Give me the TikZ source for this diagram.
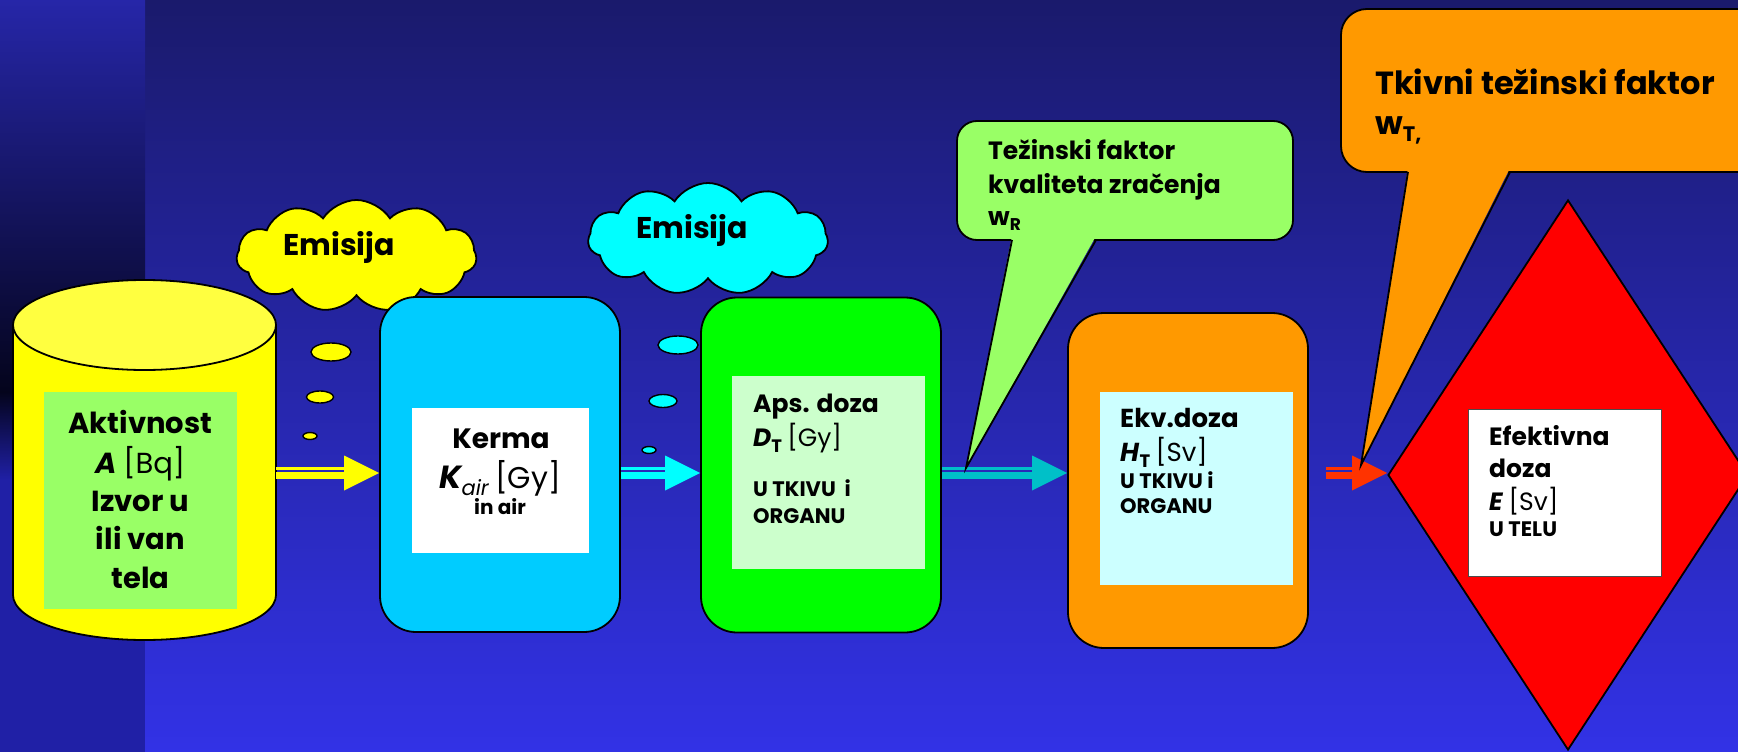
\documentclass[tikz,border=0pt]{standalone}
\usepackage{fontspec}
\setmainfont{Poppins}
\usetikzlibrary{shapes.geometric,shapes.symbols,calc}

\definecolor{bgtop}{HTML}{1A1A6C}
\definecolor{bgbot}{HTML}{3232E6}
\definecolor{striptop}{HTML}{2626A8}
\definecolor{stripdark}{HTML}{04041C}
\definecolor{stripbot}{HTML}{2020A6}
\definecolor{srcyellow}{HTML}{FFFF00}
\definecolor{srctop}{HTML}{FFFF40}
\definecolor{lightgreen}{HTML}{99FF66}
\definecolor{kermablue}{HTML}{00CCFF}
\definecolor{cloudcyan}{HTML}{00FFFF}
\definecolor{absgreen}{HTML}{00FF00}
\definecolor{palegreen}{HTML}{CCFFCC}
\definecolor{paleblue}{HTML}{CCFFFF}
\definecolor{eqorange}{HTML}{FF9900}
\definecolor{tealarrow}{HTML}{00C0C8}
\definecolor{redarrow}{HTML}{FF3300}
\definecolor{effred}{HTML}{FF0000}

\newcommand{\fsz}[1]{\fontsize{#1pt}{#1pt}\selectfont}

% striped block arrow: colour, start, end (same height), head length
\newcommand{\stripedarrow}[4]{%
  \fill[#1] ($(#2)+(0,-6)$) rectangle ($(#3)+(-#4,-3.5)$);
  \fill[#1] ($(#2)+(0,-1)$) rectangle ($(#3)+(-#4,6)$);
  \fill[#1] ($(#3)+(-#4,-17.5)$) -- (#3) -- ($(#3)+(-#4,17.5)$) -- cycle;
}

\tikzset{
  outline/.style={draw=black, line width=1.8pt},
  stage/.style={outline, rounded corners=36pt, minimum width=240pt,
    minimum height=335pt, inner sep=0pt},
  panel/.style={inner sep=0pt, outer sep=0pt},
  puff/.style={outline, cloud, cloud puffs=11, cloud puff arc=115,
    cloud ignores aspect, minimum width=240pt, minimum height=112pt, inner sep=0pt},
  bubble/.style={draw=black, line width=1.4pt},
  bigtxt/.style={font=\fsz{29}\bfseries, inner sep=0pt},
  midtxt/.style={font=\fsz{25}\bfseries, inner sep=0pt},
  smalltxt/.style={font=\fsz{21}\bfseries, inner sep=0pt},
}

\begin{document}
\begin{tikzpicture}[x=1pt,y=-1pt]
\useasboundingbox (0,0) rectangle (1738,752);
\clip (0,0) rectangle (1738,752);

% background
\fill[top color=bgtop, bottom color=bgbot] (145,0) rectangle (1738,752);
\fill[top color=striptop, bottom color=stripdark] (0,0) rectangle (145,392);
\fill[top color=stripdark, bottom color=stripbot] (0,392) rectangle (145,480);
\fill[stripbot] (0,480) rectangle (145,752);

% source cylinder
\fill[srcyellow] (13,325) -- (13,595)
  arc[start angle=180, end angle=360, x radius=131.5pt, y radius=45pt] -- (276,325) -- cycle;
\draw[outline] (13,325) -- (13,595)
  arc[start angle=180, end angle=360, x radius=131.5pt, y radius=45pt] -- (276,325);
\draw[outline, fill=srctop] (144.5,325) ellipse [x radius=131.5pt, y radius=45pt];
\coordinate (cylE) at (276,473);
\node[panel, fill=lightgreen, minimum width=193pt, minimum height=217pt] (srcpanel) at (140.5,500.5) {};
\node[bigtxt, anchor=base] (s1) at (140.5,433.5) {Aktivnost};
\node[bigtxt, anchor=base] (s2) at (140.5,473.5) {\textit{A} {\mdseries [Bq]}};
\node[bigtxt, anchor=base] (s3) at (140.5,511.5) {Izvor u};
\node[bigtxt, anchor=base] (s4) at (140.5,549.5) {ili van};
\node[bigtxt, anchor=base] (s5) at (140.5,588.5) {tela};

% emission clouds
\node[puff, fill=srcyellow] (cloudA) at (356.5,256) {};
\node[font=\fsz{30}\bfseries, inner sep=0pt, anchor=base] (emA) at (339,255) {Emisija};
\draw[bubble, fill=srcyellow] (331,352) ellipse [x radius=20pt, y radius=9pt];
\draw[bubble, fill=srcyellow] (320,397) ellipse [x radius=13.5pt, y radius=6pt];
\draw[bubble, fill=srcyellow] (310,436) ellipse [x radius=7pt, y radius=3.5pt];

\node[puff, fill=cloudcyan] (cloudB) at (708,239) {};
\node[font=\fsz{30}\bfseries, inner sep=0pt, anchor=base] (emB) at (692,238) {Emisija};
\draw[bubble, fill=cloudcyan] (678,345) ellipse [x radius=20pt, y radius=9pt];
\draw[bubble, fill=cloudcyan] (663,401) ellipse [x radius=14pt, y radius=6.5pt];
\draw[bubble, fill=cloudcyan] (649,450) ellipse [x radius=7pt, y radius=3.5pt];

% kerma
\node[stage, fill=kermablue] (kerma) at (500,464.5) {};
\node[panel, fill=white, minimum width=177pt, minimum height=145pt] (kpanel) at (500.5,480.5) {};
\node[font=\fsz{28}\bfseries, inner sep=0pt, anchor=base] (k1) at (501,448) {Kerma};
\node[font=\fsz{30}\bfseries, inner sep=0pt, anchor=base] (k2) at (500,488)
  {{\fsz{32}\itshape K}\raisebox{-7pt}{\fsz{21}\mdseries\itshape air} {\mdseries [Gy]}};
\node[font=\fsz{20}\bfseries, inner sep=0pt, anchor=base] (k3) at (500,514) {in air};

% absorbed dose
\node[stage, fill=absgreen] (aps) at (821,465) {};
\node[panel, fill=palegreen, minimum width=193pt, minimum height=193pt] (apanel) at (828.5,472.5) {};
\node[midtxt, anchor=base west] (a1) at (753,412) {Aps. doza};
\node[midtxt, anchor=base west] (a2) at (753,446)
  {\textit{D}\raisebox{-6pt}{\fsz{18}T} {\mdseries [Gy]}};
\node[smalltxt, anchor=base west] (a3) at (753,496) {U TKIVU\ \ i};
\node[smalltxt, anchor=base west] (a4) at (753,523) {ORGANU};

% equivalent dose
\node[stage, fill=eqorange] (ekv) at (1188,480.5) {};
\node[panel, fill=paleblue, minimum width=193pt, minimum height=193pt] (epanel) at (1196.5,488.5) {};
\node[font=\fsz{26}\bfseries, inner sep=0pt, anchor=base west] (e1) at (1120,427) {Ekv.doza};
\node[font=\fsz{26}\bfseries, inner sep=0pt, anchor=base west] (e2) at (1120,461)
  {\textit{H}\raisebox{-6pt}{\fsz{18}T} {\mdseries [Sv]}};
\node[smalltxt, anchor=base west] (e3) at (1120,488) {U TKIVU i};
\node[smalltxt, anchor=base west] (e4) at (1120,513) {ORGANU};

% effective dose
\node[outline, diamond, fill=effred, minimum width=360pt, minimum height=550pt, inner sep=0pt] (eff) at (1568,475) {};
\node[panel, fill=white, draw=black!70, line width=1pt, minimum width=193pt, minimum height=167pt] (fpanel) at (1564.5,492.5) {};
\node[midtxt, anchor=base west] (f1) at (1489,445) {Efektivna};
\node[midtxt, anchor=base west] (f2) at (1489,477) {doza};
\node[midtxt, anchor=base west] (f3) at (1489,510) {\textit{E} {\mdseries [Sv]}};
\node[smalltxt, anchor=base west] (f4) at (1489,536) {U TELU};

% flow arrows
\stripedarrow{srcyellow}{cylE}{kerma.west |- cylE}{35}
\stripedarrow{cloudcyan}{kerma.east |- cylE}{aps.west |- cylE}{35}
\stripedarrow{tealarrow}{aps.east |- cylE}{ekv.west |- cylE}{35}
\coordinate (redS) at ($(ekv.east |- cylE)+(17,0)$);
\stripedarrow{redarrow}{redS}{eff.west |- cylE}{35}

% radiation weighting factor callout
\node[outline, fill=lightgreen, rounded corners=20pt, minimum width=336pt,
  minimum height=119pt, inner sep=0pt] (wr) at (1125,180.5) {};
\coordinate (wrTip) at (966,468);
\fill[lightgreen] (1012,236) -- (wrTip) -- (1096,236) -- cycle;
\draw[outline, line join=miter] (1012,240) -- (wrTip) -- (1096,240);
\node[midtxt, anchor=base west] (w1) at (988,159) {Težinski faktor};
\node[midtxt, anchor=base west] (w2) at (988,193) {kvaliteta zračenja};
\node[midtxt, anchor=base west] (w3) at (988,225) {w\raisebox{-5pt}{\fsz{17}R}};

% tissue weighting factor callout
\node[outline, fill=eqorange, rounded corners=26pt, minimum width=424pt,
  minimum height=163pt, inner sep=0pt] (wt) at (1553,90.5) {};
\coordinate (wtTip) at (1361,465);
\fill[eqorange] (1408,168) -- (wtTip) -- (1510,168) -- cycle;
\draw[outline, line join=miter] (1408,172) -- (wtTip) -- (1510,172);
\node[font=\fsz{32}\bfseries, inner sep=0pt, anchor=base west] (t1) at (1375,94) {Tkivni težinski faktor};
\node[font=\fsz{32}\bfseries, inner sep=0pt, anchor=base west] (t2) at (1375,134) {w\raisebox{-7pt}{\fsz{21}T,}};
\end{tikzpicture}
\end{document}
